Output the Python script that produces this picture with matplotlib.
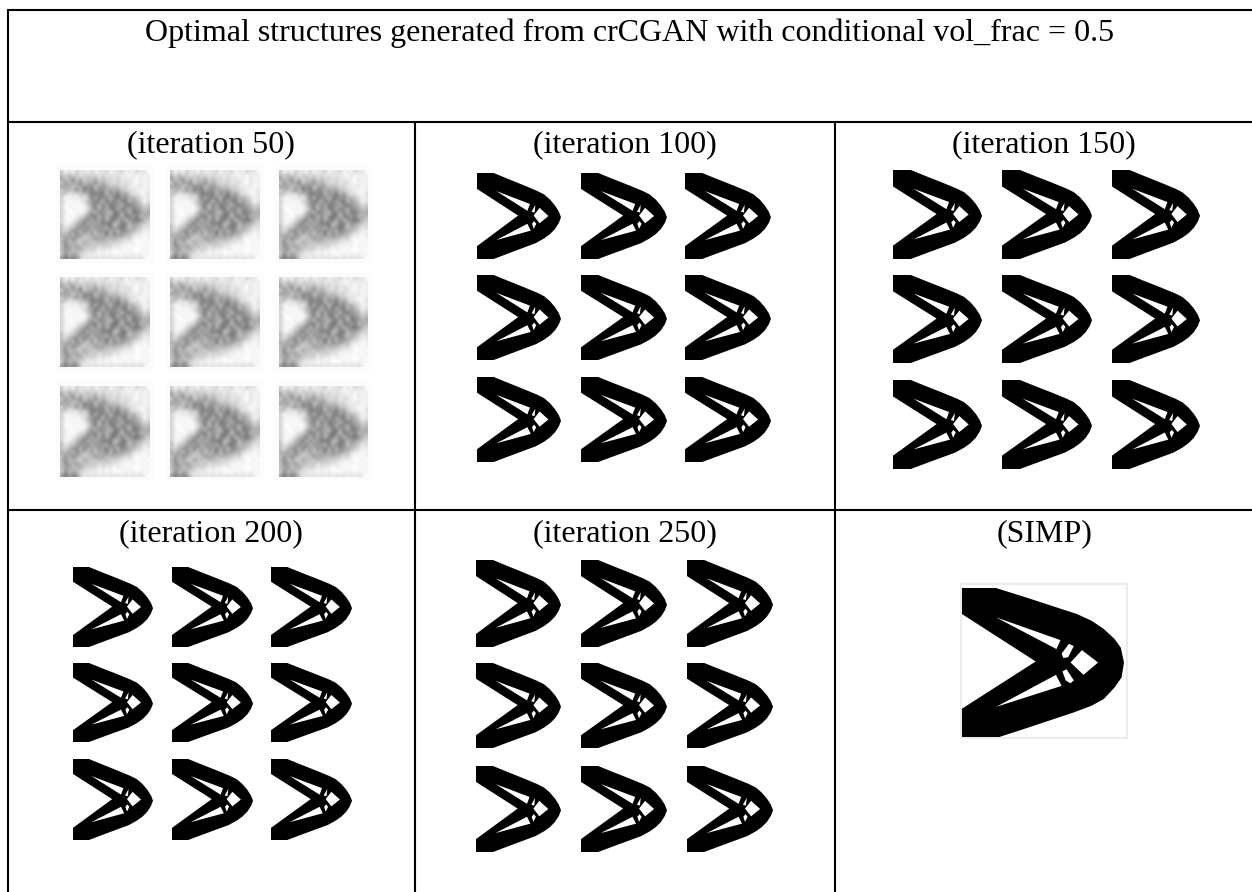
import numpy as np
import matplotlib
matplotlib.use("Agg")
import matplotlib.pyplot as plt
from matplotlib.path import Path
from matplotlib.patches import PathPatch, Rectangle

W, H = 1252, 892
plt.rcParams['font.family'] = ['Liberation Serif', 'DejaVu Serif']

title = "Optimal structures generated from crCGAN with conditional vol_frac = 0.5"
cell_labels = ["(iteration 50)", "(iteration 100)", "(iteration 150)",
               "(iteration 200)", "(iteration 250)", "(SIMP)"]
label_x = [211, 625, 1044, 211, 625, 1045]
label_y = [145, 145, 145, 534, 534, 534]

# Generated thumbnail outlines (unit square, y down)
gan_outer = [(0, 0), (.2, 0), (.36, .065), (.55, .14), (.72, .21), (.8, .25), (.87, .31), (.93, .38),
             (.975, .45), (1, .515), (.975, .58), (.93, .65), (.87, .71), (.8, .76), (.7, .815),
             (.55, .87), (.36, .94), (.2, 1), (0, 1), (0, .85), (.49, .495), (0, .185)]
gan_holes = [[(.23, .21), (.63, .36), (.6, .44)],
             [(.23, .78), (.6, .59), (.64, .67)],
             [(.745, .405), (.85, .5), (.745, .585), (.675, .495)],
             [(.65, .45), (.695, .37), (.685, .46)],
             [(.68, .56), (.705, .59), (.675, .65), (.655, .59)]]

# SIMP structure outline
simp_outer = [(0, 0), (.21, 0), (.4, .065), (.71, .175), (.8, .22), (.875, .275), (.94, .34), (.98, .40),
              (1, .5), (.985, .6), (.94, .67), (.875, .745), (.8, .79), (.69, .835), (.4, .94),
              (.23, 1), (0, 1), (0, .81), (.455, .493), (0, .175)]
simp_holes = [[(.21, .197), (.608, .35), (.583, .41)],
              [(.21, .798), (.58, .583), (.615, .657)],
              [(.74, .417), (.84, .5), (.75, .583), (.67, .5)],
              [(.615, .44), (.66, .375), (.69, .39), (.655, .465), (.625, .47)],
              [(.62, .56), (.645, .545), (.69, .62), (.67, .64), (.64, .62)]]

# Boxes of the thumbnails: column edges, row edges per panel
p100_x = [(477, 561), (581, 667), (685, 771)]
p100_y = [(173, 259), (275, 360), (377, 462)]
p150_x = [(893, 982), (1002, 1092), (1112, 1200)]
p150_y = [(170, 259), (275, 363), (380, 469)]
p200_x = [(73, 153), (172, 253), (271, 352)]
p200_y = [(567, 647), (663, 742), (759, 840)]
p250_x = [(476, 561), (581, 667), (687, 773)]
p250_y = [(560, 647), (663, 748), (766, 852)]
p50_x = [(60, 150), (170, 260), (279, 368)]
p50_y = [(170, 259), (277, 367), (386, 477)]
simp_box = (962, 1124, 588, 737)
simp_frame = (961, 584, 166, 154)

# Darkness of the early noisy sample, read by eye (0 light .. 9 dark)
noise_rows = [
    "302031203021302130203120",
    "425241332313121211020111",
    "634725243524231312110201",
    "273648254735322312210111",
    "646254767356534323111201",
    "253473858476464633221011",
    "431214357868375846312102",
    "201112138386737857453211",
    "310101245873858478364302",
    "201010136738486737865423",
    "300101024837478386476534",
    "210010146386537848387645",
    "301012357837468737848354",
    "210124583748378483678743",
    "301245837467883478365432",
    "413357483756384786354312",
    "324673846375847376543211",
    "546375436354837564421101",
    "364754243746354432310101",
    "473532634253423221110010",
    "375464342413231201010101",
    "456345323212110110100010",
    "273542211101010001010101",
    "585763121212121212121210",
]

fig = plt.figure(figsize=(W / 100, H / 100), dpi=100, facecolor='white')
ax = fig.add_axes([0, 0, 1, 1])
ax.set_axis_off()

noise = np.array([[int(c) for c in r] for r in noise_rows], dtype=float)
gray = 1 - noise * 0.07


def signed_area(pts):
    p = np.asarray(pts)
    return 0.5 * np.sum(p[:, 0] * np.roll(p[:, 1], -1) - np.roll(p[:, 0], -1) * p[:, 1])


def shape_path(outer, holes, x0, x1, y0, y1):
    verts, codes = [], []
    for i, poly in enumerate([outer] + holes):
        pts = [(x0 + u * (x1 - x0), y0 + v * (y1 - y0)) for u, v in poly]
        # holes must wind the other way round from the outline
        if (signed_area(pts) > 0) != (i == 0):
            pts = pts[::-1]
        verts += pts + [pts[0]]
        codes += [Path.MOVETO] + [Path.LINETO] * (len(pts) - 1) + [Path.CLOSEPOLY]
    return Path(verts, codes)


def draw_shape(outer, holes, x0, x1, y0, y1):
    ax.add_patch(PathPatch(shape_path(outer, holes, x0, x1, y0, y1),
                           facecolor='black', edgecolor='none', lw=0, zorder=3))


for xs, ys in [(p100_x, p100_y), (p150_x, p150_y), (p200_x, p200_y), (p250_x, p250_y)]:
    for (y0, y1) in ys:
        for (x0, x1) in xs:
            draw_shape(gan_outer, gan_holes, x0, x1, y0, y1)

for (y0, y1) in p50_y:
    for (x0, x1) in p50_x:
        ax.add_patch(Rectangle((x0 - 4, y0 - 4), x1 - x0 + 8, y1 - y0 + 8,
                               facecolor='#fcfcfc', edgecolor='none', zorder=1))
        ax.imshow(gray, cmap='gray', vmin=0, vmax=1, extent=(x0, x1, y1, y0),
                  interpolation='bicubic', aspect='auto', zorder=2)

fx, fy, fw, fh = simp_frame
ax.add_patch(Rectangle((fx, fy), fw, fh, facecolor='white', edgecolor='#ececec', lw=1.6, zorder=2))
draw_shape(simp_outer, simp_holes, *simp_box)

# Table rules
rule = dict(color='black', lw=1.5, solid_capstyle='butt', zorder=4)
ax.plot([8, 8], [9, H], **rule)
ax.plot([7, W], [10, 10], **rule)
ax.plot([8, W], [122, 122], **rule)
ax.plot([8, W], [510, 510], **rule)
ax.plot([415, 415], [122, H], **rule)
ax.plot([835, 835], [122, H], **rule)

ax.text(630, 33, title, ha='center', va='center', fontsize=23, color='black', zorder=5)
for s, x, y in zip(cell_labels, label_x, label_y):
    ax.text(x, y, s, ha='center', va='center', fontsize=23, color='black', zorder=5)

ax.set_xlim(0, W)
ax.set_ylim(H, 0)
fig.savefig("out.png", dpi=100, facecolor='white')
